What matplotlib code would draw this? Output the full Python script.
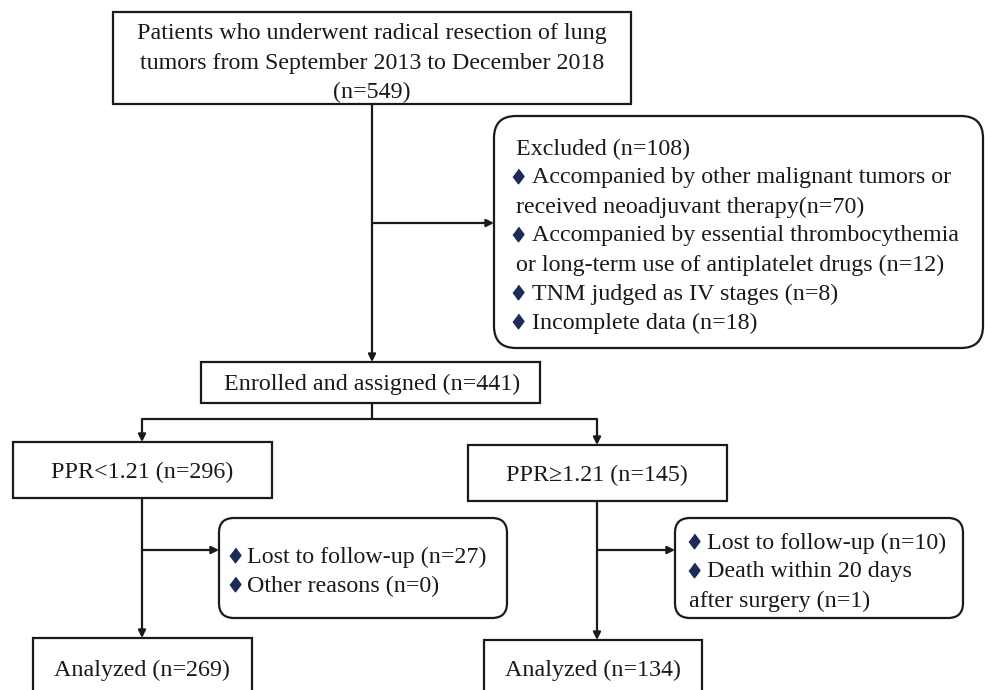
import matplotlib.pyplot as plt
from matplotlib.patches import Rectangle, FancyBboxPatch

# flow counts
n_total = 549
n_excluded = 108
excl_counts = [70, 12, 8, 18]
n_enrolled = 441
groups = ["PPR<1.21", "PPR\u22651.21"]
group_n = [296, 145]
lost_left = [27, 0]
lost_right = [10, 1]
analyzed_n = [269, 134]

top_lines = ["Patients who underwent radical resection of lung",
             "tumors from September 2013 to December 2018",
             "(n=%d)" % n_total]
excl_lines = [(False, "Excluded (n=%d)" % n_excluded),
              (True, "Accompanied by other malignant tumors or"),
              (False, "received neoadjuvant therapy(n=%d)" % excl_counts[0]),
              (True, "Accompanied by essential thrombocythemia"),
              (False, "or long-term use of antiplatelet drugs (n=%d)" % excl_counts[1]),
              (True, "TNM judged as IV stages (n=%d)" % excl_counts[2]),
              (True, "Incomplete data (n=%d)" % excl_counts[3])]
left_lost_lines = [(True, "Lost to follow-up (n=%d)" % lost_left[0]),
                   (True, "Other reasons (n=%d)" % lost_left[1])]
right_lost_lines = [(True, "Lost to follow-up (n=%d)" % lost_right[0]),
                    (True, "Death within 20 days"),
                    (False, "after surgery (n=%d)" % lost_right[1])]

plt.rcParams['font.family'] = ['Liberation Serif', 'DejaVu Serif']
fs = 17.3
ink = '#1a1a1a'
lw = 1.6
diamond = [(0, 1), (0.75, 0), (0, -1), (-0.75, 0)]

fig = plt.figure(figsize=(9.85, 6.90), dpi=100)
ax = fig.add_axes([0, 0, 1, 1])
ax.set_xlim(0, 985)
ax.set_ylim(690, 0)
ax.axis('off')


def box(x0, y0, x1, y1, r=0):
    if r:
        p = FancyBboxPatch((x0, y0), x1 - x0, y1 - y0,
                           boxstyle="round,pad=0,rounding_size=%d" % r,
                           fc='white', ec=ink, lw=lw)
    else:
        p = Rectangle((x0, y0), x1 - x0, y1 - y0, fc='white', ec=ink, lw=lw)
    ax.add_patch(p)


def line(xs, ys):
    ax.plot(xs, ys, color=ink, lw=lw, solid_capstyle='butt')


def arrow(x0, y0, x1, y1):
    ax.annotate('', xy=(x1, y1), xytext=(x0, y0),
                arrowprops=dict(arrowstyle='-|>', color=ink, lw=lw,
                                mutation_scale=11, shrinkA=0, shrinkB=0))


def label(x, y, s, ha='center'):
    ax.text(x, y + 2, s, fontsize=fs, color=ink, ha=ha, va='center')


def bullets(lines, xd, xt, xc, y0, dy):
    for i, (b, s) in enumerate(lines):
        y = y0 + i * dy
        if b:
            ax.plot(xd, y, marker=diamond, ms=10.5, color='#1c2b58',
                    mec='#1c2b58')
            label(xt, y, s, ha='left')
        else:
            label(xc, y, s, ha='left')


# top box
box(113, 12, 631, 104)
for i, s in enumerate(top_lines):
    label(372, 32 + i * 29, s)

# main trunk and exclusion branch
arrow(372, 104, 372, 362)
arrow(372, 223, 494, 223)
box(494, 116, 983, 348, r=22)
bullets(excl_lines, 518, 532, 516, 147, 29)

# enrolled box
box(201, 362, 540, 403)
label(372, 382, "Enrolled and assigned (n=%d)" % n_enrolled)
line([372, 372], [403, 419])
line([142, 597], [419, 419])
arrow(142, 419, 142, 442)
arrow(597, 419, 597, 445)

# group boxes
box(13, 442, 272, 498)
label(142, 470, "%s (n=%d)" % (groups[0], group_n[0]))
box(468, 445, 727, 501)
label(597, 473, "%s (n=%d)" % (groups[1], group_n[1]))

# left arm
arrow(142, 498, 142, 638)
arrow(142, 550, 219, 550)
box(219, 518, 507, 618, r=15)
bullets(left_lost_lines, 235, 247, 247, 555, 29)

# right arm
arrow(597, 501, 597, 640)
arrow(597, 550, 675, 550)
box(675, 518, 963, 618, r=15)
bullets(right_lost_lines, 694, 707, 689, 541, 29)

# analyzed boxes
box(33, 638, 252, 720)
label(142, 668, "Analyzed (n=%d)" % analyzed_n[0])
box(484, 640, 702, 720)
label(593, 668, "Analyzed (n=%d)" % analyzed_n[1])

fig.savefig('out.png', dpi=100)
